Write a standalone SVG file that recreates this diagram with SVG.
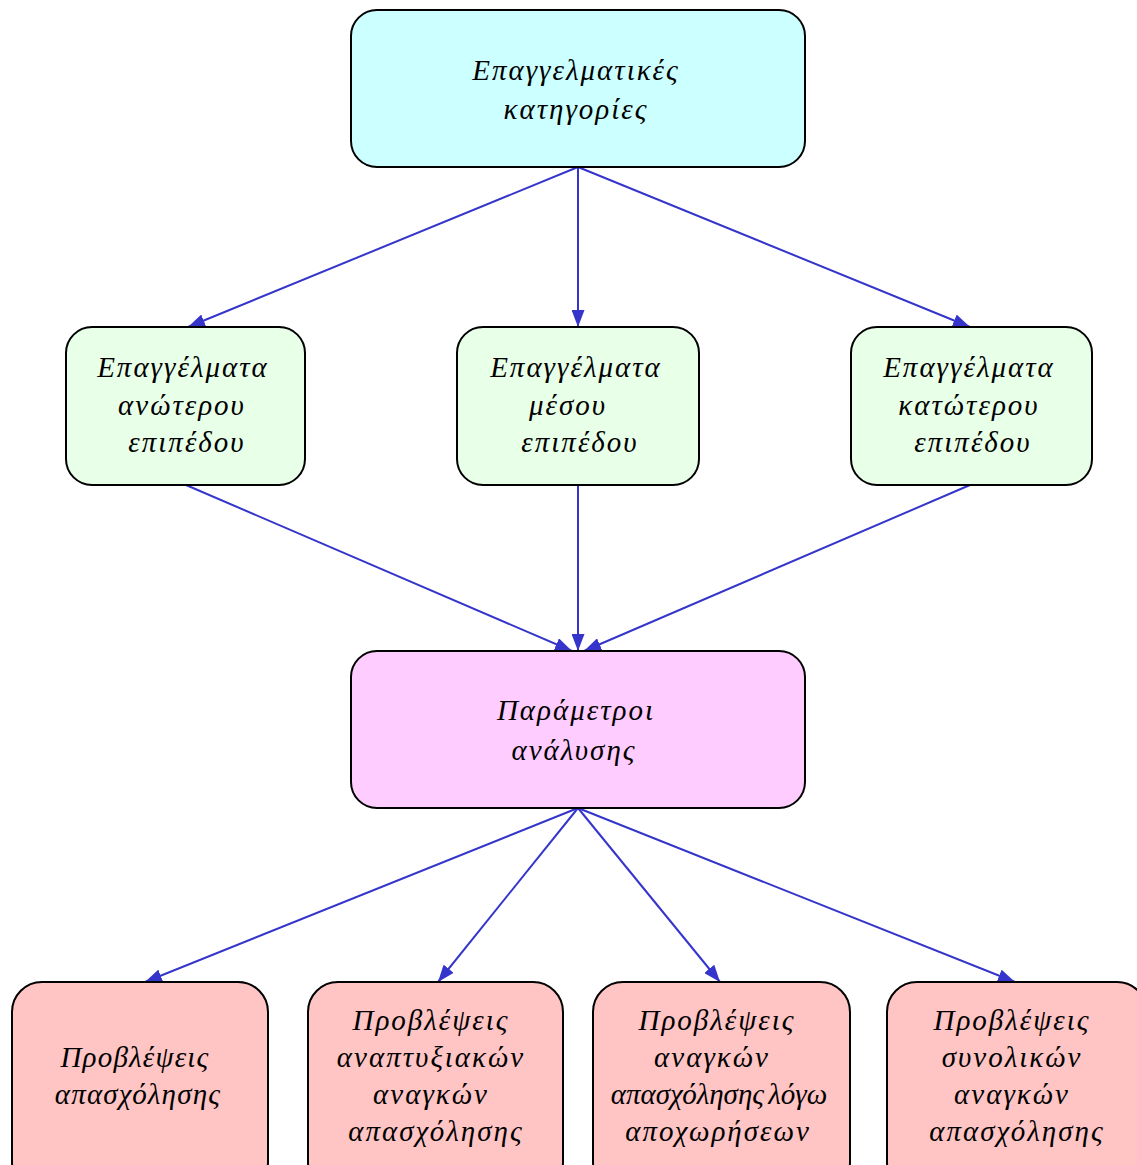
<svg xmlns="http://www.w3.org/2000/svg" width="1137" height="1165" viewBox="0 0 1137 1165">
<defs>
<marker id="ah" viewBox="0 0 17 13" refX="17" refY="6.5" markerWidth="17" markerHeight="13" markerUnits="userSpaceOnUse" orient="auto">
<path d="M0,0 L17,6.5 L0,13 Z" fill="#3535CC"/>
</marker>
<style>
.n{stroke:#000;stroke-width:2}
.c{fill:#CCFFFF}.g{fill:#E8FFE8}.p{fill:#FFCCFF}.r{fill:#FFC4C4}
text{font-family:"Liberation Serif","DejaVu Serif",serif;font-style:italic;font-size:29px;letter-spacing:2px;fill:#000;text-anchor:middle}
text.t{letter-spacing:1.2px}
text.w{letter-spacing:0;word-spacing:-3px}
.e line{stroke:#3535CC;stroke-width:2;marker-end:url(#ah)}
</style>
</defs>
<rect width="1137" height="1165" fill="#fff"/>
<g id="connectors" class="e">
<line x1="578" y1="167" x2="188" y2="327"/>
<line x1="578" y1="167" x2="578" y2="327"/>
<line x1="578" y1="167" x2="970" y2="327"/>
<line x1="186" y1="485" x2="572" y2="651"/>
<line x1="578" y1="485" x2="578" y2="651"/>
<line x1="970" y1="485" x2="584" y2="651"/>
<line x1="578" y1="808" x2="145" y2="982"/>
<line x1="578" y1="808" x2="438" y2="982"/>
<line x1="578" y1="808" x2="720" y2="982"/>
<line x1="578" y1="808" x2="1015" y2="982"/>
</g>
<g id="n-top"><rect class="n c" x="351" y="10" width="454" height="157" rx="26"/><text x="576" y="80">Επαγγελματικές</text><text x="576" y="119">κατηγορίες</text></g>
<g id="n-high"><rect class="n g" x="66" y="327" width="239" height="158" rx="26"/><text x="183" y="377">Επαγγέλματα</text><text x="182" y="415">ανώτερου</text><text x="187" y="452">επιπέδου</text></g>
<g id="n-mid"><rect class="n g" x="457" y="327" width="242" height="158" rx="26"/><text x="576" y="377">Επαγγέλματα</text><text x="568" y="415">μέσου</text><text x="580" y="452">επιπέδου</text></g>
<g id="n-low"><rect class="n g" x="851" y="327" width="241" height="158" rx="26"/><text x="969" y="377">Επαγγέλματα</text><text x="969" y="415">κατώτερου</text><text x="973" y="452">επιπέδου</text></g>
<g id="n-param"><rect class="n p" x="351" y="651" width="454" height="157" rx="26"/><text x="576" y="720">Παράμετροι</text><text x="574" y="760">ανάλυσης</text></g>
<g id="n-b1"><rect class="n r" x="12" y="982" width="256" height="210" rx="30"/><text class="t" x="135" y="1067">Προβλέψεις</text><text class="t" x="138" y="1104">απασχόλησης</text></g>
<g id="n-b2"><rect class="n r" x="308" y="982" width="255" height="210" rx="30"/><text x="431" y="1030">Προβλέψεις</text><text x="431" y="1067">αναπτυξιακών</text><text x="431" y="1104">αναγκών</text><text x="436" y="1141">απασχόλησης</text></g>
<g id="n-b3"><rect class="n r" x="593" y="982" width="257" height="210" rx="30"/><text x="717" y="1030">Προβλέψεις</text><text x="712" y="1067">αναγκών</text><text class="w" x="719" y="1104">απασχόλησης λόγω</text><text x="718" y="1141">αποχωρήσεων</text></g>
<g id="n-b4"><rect class="n r" x="887" y="982" width="260" height="210" rx="30"/><text x="1012" y="1030">Προβλέψεις</text><text x="1012" y="1067">συνολικών</text><text x="1012" y="1104">αναγκών</text><text x="1017" y="1141">απασχόλησης</text></g>
</svg>
